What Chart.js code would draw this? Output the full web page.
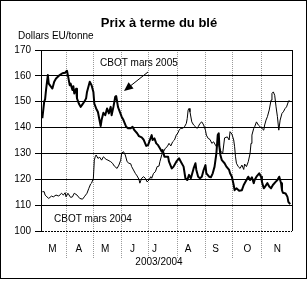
<!DOCTYPE html>
<html>
<head>
<meta charset="utf-8">
<script src="https://cdn.jsdelivr.net/npm/chart.js@4.4.1/dist/chart.umd.min.js"></script>
<style>
html, body { margin: 0; padding: 0; background: #fff; }
</style>
</head>
<body>
<canvas id="myChart" width="308" height="281"></canvas>
<script>
// jours depuis le 1er mars 2003
var jours2005 = [5,7,8,9,11,12,14,16,18,20,21,24,27,30,32,33,35,36,38,39,40,42,43,45,47,49,51,53,54,57,59,61,62,64,66,67,69,70,72,74,76,78,80,81,83,85,86,88,89,92,94,97,99,102,104,106,109,111,114,116,119,121,123,125,126,128,130,132,134,136,137,139,141,143,144,147,149,152,155,157,160,162,164,166,168,171,173,174,176,178,180,182,184,185,188,190,192,194,196,197.5,198.6,199.3,200.4,202,205,207,210,211,213,215,216,218,221,224,226,229,231,233,235,237,238,240,243,245,246,248,249,252,254,256,258,261,263,265,267,268,269,272,274,275,277]
var prix2005 = [143.6,150,150.9,154.5,160.3,157,156,155.1,157.7,159,159,160.3,161,161.2,162,160.3,156.4,157,154.5,156,153.2,155,151.3,149.3,148,149,150,151.3,153.8,157.7,156.4,153.8,149.3,147.4,146,144.2,140.6,142.9,145.7,144.8,147.4,145.5,148,144.8,148,151.9,152.2,148,147,144.2,142.9,140.3,139.7,139.7,140.3,139,137.8,136.7,136.2,135.4,132.9,133.2,135.2,137.1,135.2,135.8,133.9,133.2,132,130.7,131.3,128.7,128.7,128.7,126.8,124.2,124.9,126.8,128.1,126.8,124.9,120.4,119.7,121.7,120.4,124.2,126.2,123.6,121,120.4,121,123.6,125.5,122.3,121,120.8,122.3,124.9,130,137.1,137.8,132.6,129.4,127.4,126.2,124.9,123.6,122.3,121,117.8,115.8,116.5,115.6,115.8,117.8,119.7,121,119.7,120.8,118.5,119.7,121,122.3,121,119,116.5,116.9,118.5,117.2,116.5,117.8,119,119.7,121,118.5,115.8,114.8,114.5,113.2,111.3,110.4]

var jours2004 = [5,7,8,10,12,15,17,20,23,26,28,30,31,33,36,38,40,43,46,49,51,54,56,58,59,61,62,63,64,66,68,70,72,75,77,80,82,84,87,89,91,92,94,96,98,100,102,103,105,107,109,111,112,114,116,118,120,122,124,125,127,129,131,133,134,136,138,140,142,144,146,148,150,152,154,155,157,159,161,163,164,165,166,167,169,171,173,175,176,178,180,182,184,185,187,189,191,193,195,196,198,201,203,205,208,210,211,213,215,216,217,218,220,222,224,226,227,229,231,233,234,235,237,238,240,242,244,246,248,249,250.5,252,254,256,257,258.5,260,261.5,263,264.5,266,268,269.5,271.5,273,275,276]
var prix2004 = [115.2,115.2,113.9,113.2,112.6,113.5,113.2,113.9,113.5,114.6,113.9,114.8,113.2,114.6,113,113.2,114.6,113.9,112.6,112.3,113.2,114.6,116.5,118.2,118.5,120.4,127.4,128.7,129.4,128.1,128.5,127.4,128.7,127.7,127.4,126.8,126.2,125.1,124.2,125.5,127.4,130,130.7,129.4,126.8,126.2,126,124.9,123.6,122.3,121.3,120,118.5,120.4,121,120.4,119,119.7,121,120.4,122.3,122.9,124.9,125.1,126.8,129.4,130.7,132,132.6,133.9,132.9,134.5,135.2,137.1,138,139,139.7,139.7,140.3,141.6,143.5,146.8,147.4,146.1,142.2,141,140.3,139.7,140.3,141.6,142.2,141,139,137.1,135.8,135.4,133.9,134.5,133.2,132.6,133.9,130.7,130.2,136,136.4,135.2,138.4,137.5,135.2,132.6,128.7,126.2,124.9,124.2,125.5,123.8,125.9,124.9,126.8,130,133.9,137.1,139.7,140.3,142.2,141,140.3,139.7,139,141,142.9,144.2,146.8,150.6,153.2,153.8,152.5,148,144.2,139,142.9,145.5,146.1,147.4,148,150,150.6]

var mois = ['M','A','M','J','J','A','S','O','N']
var posMois = [16,45,74,104,128,165,195,230,263] // position des lettres
var debutsMois = [31,61,92,122,153,184,214,245] // 1er avril ... 1er novembre
var yTicks = [100,110,120,130,140,150,160,170]

var police = '"Liberation Sans", Arial, sans-serif'

function points(xs, ys) {
    var out = []
    for (var i = 0; i < xs.length; i++) out.push({ x: xs[i], y: ys[i] })
    return out
}

const decor = {
    id: 'decor',
    afterDraw(chart) {
        const ctx = chart.ctx
        const a = chart.chartArea
        ctx.save()
        ctx.strokeStyle = '#000'
        ctx.lineWidth = 1
        ctx.strokeRect(0.5, 0.5, 306, 278)
        // bord droit du graphique
        ctx.beginPath()
        ctx.moveTo(Math.round(a.right) + 0.5, a.top)
        ctx.lineTo(Math.round(a.right) + 0.5, a.bottom)
        ctx.stroke()

        ctx.fillStyle = '#000'
        ctx.textBaseline = 'alphabetic'
        ctx.font = 'bold 13px ' + police
        ctx.textAlign = 'center'
        ctx.fillText('Prix à terme du blé', 159, 27)
        ctx.font = '10px ' + police
        ctx.fillText('2003/2004', 159, 265)
        ctx.textAlign = 'left'
        ctx.fillText('Dollars EU/tonne', 18, 39)
        ctx.fillText('CBOT mars 2005', 100, 66)
        ctx.fillText('CBOT mars 2004', 54, 222)

        // flèche
        var x1 = 148, y1 = 72, x2 = 124, y2 = 91
        var ang = Math.atan2(y2 - y1, x2 - x1)
        ctx.beginPath()
        ctx.moveTo(x1, y1)
        ctx.lineTo(x2 - 6 * Math.cos(ang), y2 - 6 * Math.sin(ang))
        ctx.stroke()
        ctx.beginPath()
        ctx.moveTo(x2, y2)
        ctx.lineTo(x2 - 9 * Math.cos(ang) + 4 * Math.sin(ang), y2 - 9 * Math.sin(ang) - 4 * Math.cos(ang))
        ctx.lineTo(x2 - 9 * Math.cos(ang) - 4 * Math.sin(ang), y2 - 9 * Math.sin(ang) + 4 * Math.cos(ang))
        ctx.closePath()
        ctx.fill()
        ctx.restore()
    }
}

const ctx = document.getElementById('myChart').getContext('2d')
const myChart = new Chart(ctx, {
    type: 'line',
    data: {
        datasets: [{
            label: 'CBOT mars 2005',
            data: points(jours2005, prix2005),
            borderColor: '#000',
            borderWidth: 2,
            borderJoinStyle: 'round',
            pointRadius: 0,
            tension: 0
        },
        {
            label: 'CBOT mars 2004',
            data: points(jours2004, prix2004),
            borderColor: '#000',
            borderWidth: 1,
            borderJoinStyle: 'round',
            pointRadius: 0,
            tension: 0
        }]
    },
    options: {
        responsive: false,
        animation: false,
        devicePixelRatio: 1,
        layout: { padding: { top: 50, right: 16, left: 0, bottom: 0 } },
        plugins: {
            legend: { display: false },
            tooltip: { enabled: false }
        },
        scales: {
            x: {
                type: 'linear',
                min: 3.5,
                max: 279,
                afterBuildTicks: function (scale) {
                    var t = debutsMois.concat(posMois).sort(function (a, b) { return a - b })
                    scale.ticks = t.map(function (v) { return { value: v } })
                },
                afterFit: function (scale) { scale.height = 50 },
                ticks: {
                    autoSkip: false,
                    maxRotation: 0,
                    padding: -15,
                    color: '#000',
                    font: { family: police, size: 10 },
                    callback: function (value) {
                        var i = posMois.indexOf(value)
                        return i >= 0 ? mois[i] : ''
                    }
                },
                grid: {
                    color: function (c) {
                        return c.tick && debutsMois.indexOf(c.tick.value) >= 0 ? '#9a9a9a' : 'rgba(0,0,0,0)'
                    },
                    lineWidth: 1,
                    tickLength: 27,
                    tickBorderDash: [1, 1]
                },
                border: { display: false, dash: [1, 1] }
            },
            y: {
                min: 100,
                max: 170,
                afterBuildTicks: function (scale) {
                    scale.ticks = yTicks.map(function (v) { return { value: v } })
                },
                afterFit: function (scale) { scale.width = 41 },
                ticks: {
                    padding: 4,
                    color: '#000',
                    font: { family: police, size: 10 }
                },
                grid: {
                    color: '#000',
                    tickColor: '#000',
                    tickLength: 6,
                    lineWidth: 1
                },
                border: {
                    display: true,
                    color: '#000',
                    dash: function (c) { return c.tick && c.tick.value === 100 ? [2, 1] : [] }
                }
            }
        }
    },
    plugins: [decor]
});
</script>
</body>
</html>
